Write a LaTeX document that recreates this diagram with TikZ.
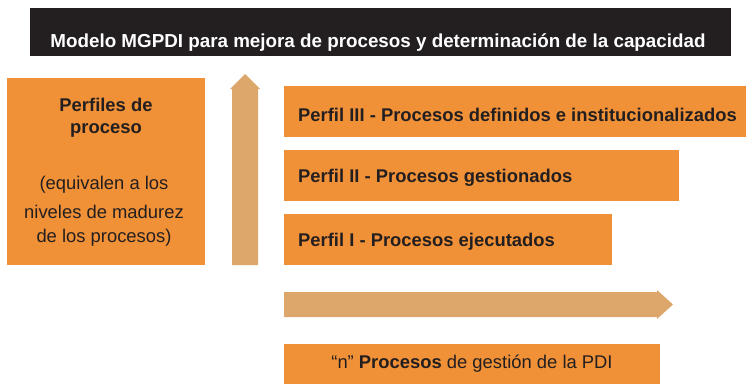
\documentclass[tikz,border=0pt]{standalone}
\usepackage{fontspec}
\setmainfont{Liberation Sans}
\definecolor{orangebox}{RGB}{241,145,55}
\definecolor{tanarrow}{RGB}{221,166,106}
\definecolor{darkbar}{RGB}{35,31,32}
\begin{document}
\begin{tikzpicture}[x=1pt,y=1pt,
  txt/.style={text=darkbar,inner sep=0pt,font=\fontsize{18.4}{26}\selectfont},
  bold/.style={txt,font=\fontsize{18.4}{26}\selectfont\bfseries},
  arrowfill/.style={fill=tanarrow,draw=none}]
\useasboundingbox (0,0) rectangle (746,384);
% title bar
\fill[darkbar] (30,328) rectangle (731,376);
\node[bold,text=white,font=\fontsize{18.8}{26}\selectfont\bfseries] (title) at (378,341) {Modelo MGPDI para mejora de procesos y determinación de la capacidad};
% left box
\fill[orangebox] (7,119) rectangle (205,306);
\node[bold] (pf1) at (106,279) {Perfiles de};
\node[bold] (pf2) at (106,254) {proceso};
\node[txt] (eq1) at (104,199) {(equivalen a los};
\node[txt] (eq2) at (104,172) {niveles de madurez};
\node[txt] (eq3) at (104,146) {de los procesos)};
% vertical arrow
\fill[arrowfill] (232,119) -- (258,119) -- (258,295) -- (260,295) -- (245,310) -- (230,295) -- (232,295) -- cycle;
% profile boxes
\fill[orangebox] (284,247) rectangle (746,298);
\coordinate (p3) at (298,269);
\node[bold,anchor=west] (t3) at (p3) {Perfil III - Procesos definidos e institucionalizados};
\fill[orangebox] (284,183) rectangle (679,234);
\coordinate (p2) at (298,206);
\node[bold,anchor=west] (t2) at (p2) {Perfil II - Procesos gestionados};
\fill[orangebox] (284,119) rectangle (612,170);
\coordinate (p1) at (298,142);
\node[bold,anchor=west] (t1) at (p1) {Perfil I - Procesos ejecutados};
% horizontal arrow
\fill[arrowfill] (284,67) -- (657,67) -- (657,65) -- (673,79.5) -- (657,94) -- (657,92) -- (284,92) -- cycle;
% bottom box
\fill[orangebox] (284,0) rectangle (660,40);
\node[txt] (bt) at (472,20) {“n” \textbf{Procesos} de gestión de la PDI};
\end{tikzpicture}
\end{document}
